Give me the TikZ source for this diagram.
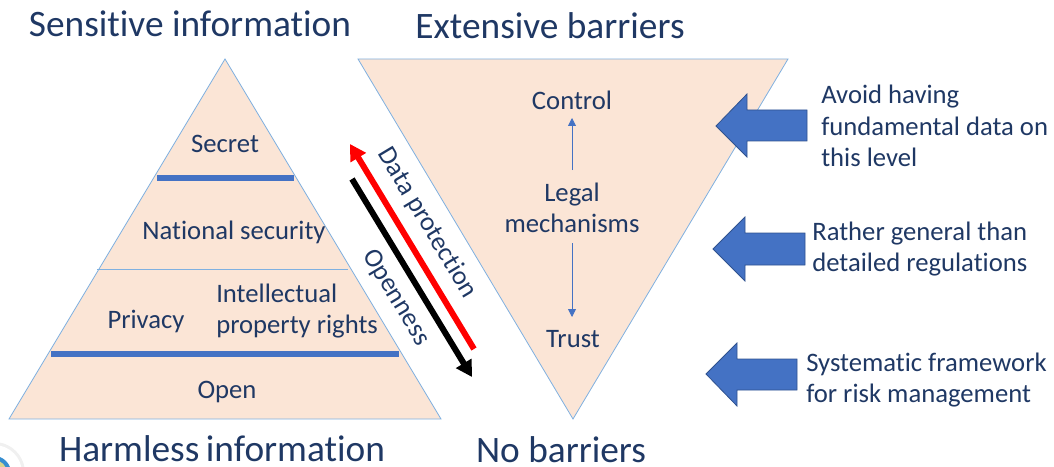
\documentclass[tikz,border=0pt]{standalone}
\usepackage{fontspec}
\setmainfont[Ligatures=NoCommon]{Carlito}
\usetikzlibrary{arrows.meta}
\definecolor{peach}{HTML}{FBE5D6}
\definecolor{edge}{HTML}{7FB0E0}
\definecolor{navy}{HTML}{1F3864}
\definecolor{bar}{HTML}{4472C4}
\definecolor{barline}{HTML}{2F528F}
\tikzset{
 x=0.75pt,y=-0.75pt,
 tri/.style={fill=peach,draw=edge,line width=0.6pt},
 heading/.style={text=navy,font=\fontsize{28}{32}\selectfont,inner sep=0pt},
 lab/.style={text=navy,font=\fontsize{20}{23.6}\selectfont,inner sep=0pt,align=center},
 side/.style={text=navy,font=\fontsize{20}{23.6}\selectfont,inner sep=0pt,align=left,anchor=west},
 diaglab/.style={text=navy,font=\fontsize{20}{24}\selectfont,rotate=-59,inner sep=0pt},
 bigarrow/.style={fill=bar,draw=barline,line width=0.6pt},
 thin/.style={draw=bar,line width=0.6pt,-{Triangle[length=6pt,width=6pt]}},
 diag/.style={line width=4.5pt,-{Triangle[length=12pt,width=13pt]}},
}
\begin{document}
\begin{tikzpicture}
\useasboundingbox (0,0) rectangle (1054,467);
% triangles
\path[tri] (225,59) -- (441,419) -- (9,419) -- cycle;
\path[tri] (358,59) -- (788,59) -- (573,419) -- cycle;
% logo fragment
\begin{scope}
\clip (0,440) rectangle (30,467);
\fill[black!6] (-6,473) circle (31);
\fill[white] (-6,473) circle (28);
\fill[bar!80!cyan] (-6,473) circle (17);
\fill[olive!35] (-6,473) circle (13);
\end{scope}
% dividers
\coordinate (d1l) at (157,178); \coordinate (d1r) at (294,178);
\coordinate (d2l) at (97,269); \coordinate (d2r) at (348,269);
\coordinate (d3l) at (51,354); \coordinate (d3r) at (399,354);
\draw[bar,line width=4.5pt] (d1l) -- (d1r);
\draw[edge,line width=0.7pt] (d2l) -- (d2r);
\draw[bar,line width=4.5pt] (d3l) -- (d3r);
% headings
\node[heading] (h1) at (190,24) {Sensitive information};
\node[heading] (h2) at (550,26) {Extensive barriers};
\node[heading] (h3) at (222,449) {Harmless\kern-0.05em\ information};
\node[heading] (h4) at (561,450) {No barriers};
% pyramid labels
\node[lab] (secret) at (225,144) {Secret};
\node[lab] (natsec) at (234,232) {National security};
\node[lab] (priv) at (146,321) {Privacy};
\node[lab,align=left,anchor=west] (ipr) at (216,311) {Intellectual\\property rights};
\node[lab] (open) at (227,392) {Open};
% funnel labels
\node[lab] (control) at (572,100) {Control};
\node[lab] (legal) at (572,208) {Legal\\mechanisms};
\node[lab] (trust) at (573,339) {Trust};
\coordinate (lu) at (572,170); \coordinate (lut) at (572,118);
\coordinate (ld) at (572,243); \coordinate (ldt) at (572,317);
\draw[thin] (lu) -- (lut);
\draw[thin] (ld) -- (ldt);
% diagonal arrows
\coordinate (ra) at (474,349); \coordinate (rb) at (350,144);
\coordinate (ka) at (352,179); \coordinate (kb) at (472,377);
\draw[diag,red] (ra) -- (rb);
\draw[diag,black] (ka) -- (kb);
\node[diaglab] (dp) at (427,223) {Data protection};
\node[diaglab] (op) at (396,298) {Openness};
% block arrows
\path[bigarrow] (807,110) -- (747,110) -- (747,94) -- (716,126) -- (747,157) -- (747,141) -- (807,141) -- cycle;
\path[bigarrow] (805,233) -- (745,233) -- (745,217) -- (713,249) -- (745,281) -- (745,265) -- (805,265) -- cycle;
\path[bigarrow] (797,359) -- (737,359) -- (737,343) -- (706,374) -- (737,406) -- (737,390) -- (797,390) -- cycle;
% side text
\node[side] (s1) at (821,126) {Avoid having\\fundamental data on\\this level};
\node[side] (s2) at (812,249) {Rather general than\\detailed regulations};
\node[side] (s3) at (806,380) {Systematic framework\\for risk management};
\end{tikzpicture}
\end{document}
